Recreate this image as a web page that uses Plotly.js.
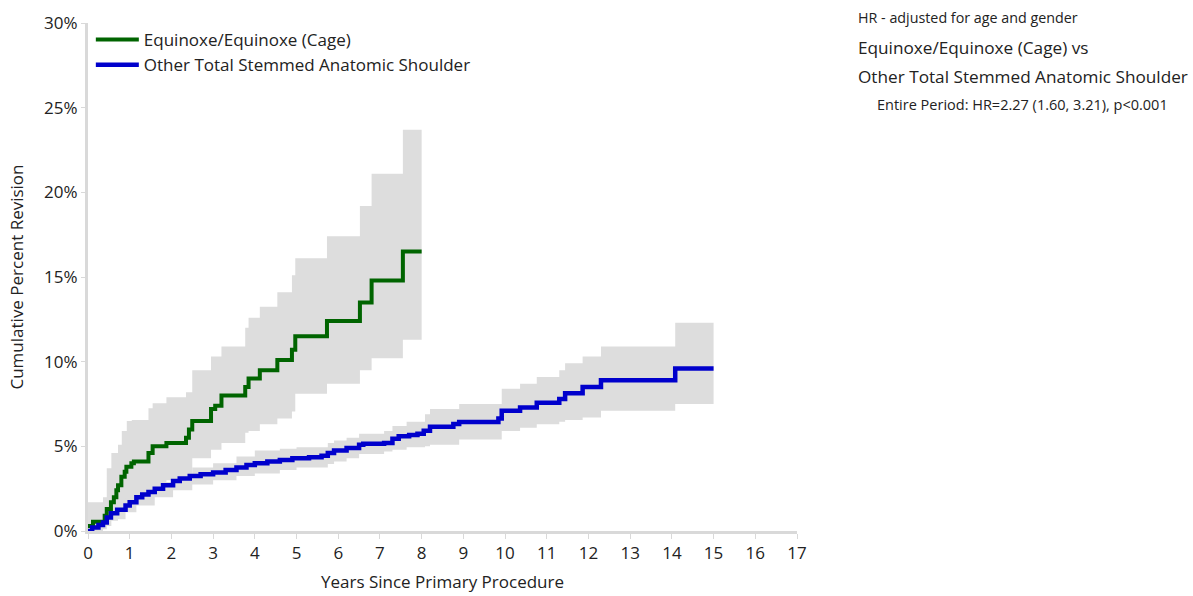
<!DOCTYPE html>
<html>
<head>
<meta charset="utf-8">
<script src="https://cdn.plot.ly/plotly-3.0.1.min.js"></script>
<style>html,body{margin:0;padding:0;background:#fff;}#chart{width:1193px;height:596px;}</style>
</head>
<body>
<div id="chart"></div>
<script>
// ---- Data (years since primary procedure, cumulative percent revision) ----
const seriesNames = ["Equinoxe/Equinoxe (Cage)", "Other Total Stemmed Anatomic Shoulder"];

// Equinoxe/Equinoxe (Cage)
const eqEnd = 8.0;
const eqT = [0, 0.12, 0.4, 0.45, 0.55, 0.62, 0.68, 0.72, 0.8, 0.88, 0.92, 1.04, 1.1, 1.45, 1.55, 1.88, 2.35, 2.42, 2.5, 2.95, 3.05, 3.2, 3.77, 3.85, 4.12, 4.54, 4.89, 4.97, 5.73, 6.52, 6.8, 7.55];
const eqV = [0.3, 0.55, 0.9, 1.3, 1.7, 2.0, 2.4, 2.7, 3.2, 3.5, 3.8, 4.0, 4.1, 4.6, 5.0, 5.2, 5.5, 6.0, 6.5, 7.2, 7.4, 8.0, 8.5, 9.0, 9.5, 10.1, 10.7, 11.5, 12.4, 13.5, 14.8, 16.5];
const eqCiT = [0, 0.36, 0.45, 0.56, 0.72, 0.81, 0.93, 1.05, 1.45, 1.55, 1.88, 2.35, 2.5, 2.95, 3.2, 3.77, 3.85, 4.12, 4.54, 4.89, 4.97, 5.73, 6.52, 6.8, 7.55];
const eqUp = [1.7, 2.0, 3.7, 4.6, 5.1, 5.9, 6.5, 6.55, 7.25, 7.55, 7.9, 8.2, 9.5, 10.3, 10.9, 12.0, 12.6, 13.25, 14.1, 15.1, 16.1, 17.4, 19.2, 21.1, 23.7];
const eqLo = [0, 0.1, 0.3, 0.6, 1.0, 1.3, 1.6, 1.8, 2.3, 2.6, 3.0, 3.2, 4.3, 4.8, 5.2, 5.8, 5.9, 6.3, 6.65, 7.05, 8.1, 8.7, 9.5, 10.2, 11.3];

// Other Total Stemmed Anatomic Shoulder
const otEnd = 15.0;
const otT = [0, 0.1, 0.25, 0.36, 0.45, 0.55, 0.7, 0.9, 1.0, 1.16, 1.3, 1.45, 1.6, 1.8, 2.04, 2.2, 2.44, 2.7, 3.0, 3.3, 3.56, 3.8, 4.0, 4.3, 4.6, 4.9, 5.3, 5.6, 5.75, 5.9, 6.2, 6.5, 6.6, 7.1, 7.3, 7.45, 7.7, 7.9, 8.05, 8.2, 8.76, 8.9, 9.84, 9.92, 10.36, 10.76, 11.3, 11.44, 11.86, 12.3, 14.08];
const otV = [0, 0.2, 0.35, 0.5, 0.8, 1.05, 1.25, 1.5, 1.7, 2.0, 2.15, 2.3, 2.5, 2.7, 2.95, 3.1, 3.25, 3.35, 3.45, 3.6, 3.75, 3.9, 4.0, 4.1, 4.2, 4.3, 4.35, 4.45, 4.6, 4.75, 4.9, 5.1, 5.15, 5.2, 5.45, 5.6, 5.67, 5.75, 5.92, 6.16, 6.32, 6.44, 6.65, 7.1, 7.3, 7.58, 7.8, 8.13, 8.5, 8.9, 9.6];
const otCiT = [0, 0.36, 0.55, 0.9, 1.16, 1.6, 2.04, 2.5, 3.0, 3.56, 4.0, 4.6, 5.0, 5.75, 5.9, 6.2, 6.5, 7.1, 7.3, 7.64, 8.08, 8.2, 8.9, 9.92, 10.36, 10.76, 11.3, 11.44, 11.86, 12.3, 14.08];
const otUp = [0.15, 0.7, 1.4, 1.9, 2.4, 2.9, 3.4, 3.75, 4.0, 4.4, 4.75, 4.85, 4.95, 5.2, 5.35, 5.5, 5.75, 5.9, 6.2, 6.45, 6.9, 7.2, 7.5, 8.4, 8.7, 9.1, 9.5, 9.9, 10.3, 10.9, 12.3];
const otLo = [0, 0.3, 0.7, 1.1, 1.5, 2.0, 2.4, 2.75, 3.0, 3.25, 3.4, 3.6, 3.75, 3.95, 4.1, 4.3, 4.55, 4.7, 4.8, 4.95, 5.0, 5.1, 5.4, 5.9, 6.1, 6.3, 6.45, 6.55, 6.7, 7.1, 7.5];

const xTicks = [0,1,2,3,4,5,6,7,8,9,10,11,12,13,14,15,16,17];
const yTicks = [0,5,10,15,20,25,30];
const yTickText = ["0%","5%","10%","15%","20%","25%","30%"];

// ---- Build traces ----
function ext(t, v, end){ return {x: t.concat([end]), y: v.concat([v[v.length-1]])}; }
const bandColor = "rgb(221,221,221)";
const FONT = "Open Sans, Noto Sans, sans-serif";
const TXT = "#222";

const eqLoS = ext(eqCiT, eqLo, eqEnd), eqUpS = ext(eqCiT, eqUp, eqEnd);
const otLoS = ext(otCiT, otLo, otEnd), otUpS = ext(otCiT, otUp, otEnd);
const eqS = ext(eqT, eqV, eqEnd), otS = ext(otT, otV, otEnd);

const traces = [
  {x: eqLoS.x, y: eqLoS.y, mode:"lines", line:{shape:"hv", width:0, color:bandColor}, showlegend:false, hoverinfo:"skip"},
  {x: eqUpS.x, y: eqUpS.y, mode:"lines", line:{shape:"hv", width:0, color:bandColor}, fill:"tonexty", fillcolor:bandColor, showlegend:false, hoverinfo:"skip"},
  {x: otLoS.x, y: otLoS.y, mode:"lines", line:{shape:"hv", width:0, color:bandColor}, showlegend:false, hoverinfo:"skip"},
  {x: otUpS.x, y: otUpS.y, mode:"lines", line:{shape:"hv", width:0, color:bandColor}, fill:"tonexty", fillcolor:bandColor, showlegend:false, hoverinfo:"skip"},
  {x: eqS.x, y: eqS.y, name: seriesNames[0], mode:"lines", line:{shape:"hv", width:4, color:"rgb(0,100,0)"}},
  {x: otS.x, y: otS.y, name: seriesNames[1], mode:"lines", line:{shape:"hv", width:4.5, color:"rgb(0,0,204)"}}
];

const L = 88, R = 396, T = 23, B = 65, W = 1193 - L - R, H = 596 - T - B;
function px(p){ return (p - L) / W; }
function py(p){ return (596 - B - p) / H; }

const layout = {
  width: 1193, height: 596,
  margin: {l: L, r: R, t: T, b: B},
  paper_bgcolor: "#fff", plot_bgcolor: "#fff",
  font: {family: FONT, color: TXT, size: 17},
  showlegend: true,
  legend: {x: 0.004, y: py(22), xanchor:"left", yanchor:"top", traceorder:"normal", bgcolor:"rgba(0,0,0,0)", font:{size:17, family:FONT, color:TXT}, tracegroupgap: 0, itemwidth: 43},
  xaxis: {
    range: [0, 17], tickvals: xTicks, ticktext: xTicks.map(String),
    showgrid: false, zeroline: false, showline: true, linecolor: "#d9d9d9", linewidth: 3,
    ticks: "outside", ticklen: 5, tickcolor: "#d9d9d9", tickwidth: 1,
    tickfont: {size: 17, family: FONT, color: TXT},
    title: {text: "Years Since Primary Procedure", font: {size: 17, family: FONT, color: TXT}, standoff: 13}
  },
  yaxis: {
    range: [0, 30], tickvals: yTicks, ticktext: yTickText,
    showgrid: false, zeroline: false, showline: true, linecolor: "#d9d9d9", linewidth: 3,
    ticks: "outside", ticklen: 4, tickcolor: "#d9d9d9", tickwidth: 1,
    tickfont: {size: 17, family: FONT, color: TXT},
    title: {text: "Cumulative Percent Revision", font: {size: 17, family: FONT, color: TXT}, standoff: 17}
  },
  annotations: [
    {xref:"paper", yref:"paper", x: px(856), y: py(17), xanchor:"left", yanchor:"middle", showarrow:false, text:"HR - adjusted for age and gender", font:{size:14.3, family:FONT, color:TXT}},
    {xref:"paper", yref:"paper", x: px(856), y: py(47), xanchor:"left", yanchor:"middle", showarrow:false, text:"Equinoxe/Equinoxe (Cage) vs", font:{size:17.2, family:FONT, color:TXT}},
    {xref:"paper", yref:"paper", x: px(856), y: py(76), xanchor:"left", yanchor:"middle", showarrow:false, text:"Other Total Stemmed Anatomic Shoulder", font:{size:17.2, family:FONT, color:TXT}},
    {xref:"paper", yref:"paper", x: px(1022), y: py(104), xanchor:"center", yanchor:"middle", showarrow:false, text:"Entire Period: HR=2.27 (1.60, 3.21), p<0.001", font:{size:14.5, family:FONT, color:TXT}}
  ]
};

Plotly.newPlot("chart", traces, layout, {staticPlot: true, displayModeBar: false});
</script>
</body>
</html>
